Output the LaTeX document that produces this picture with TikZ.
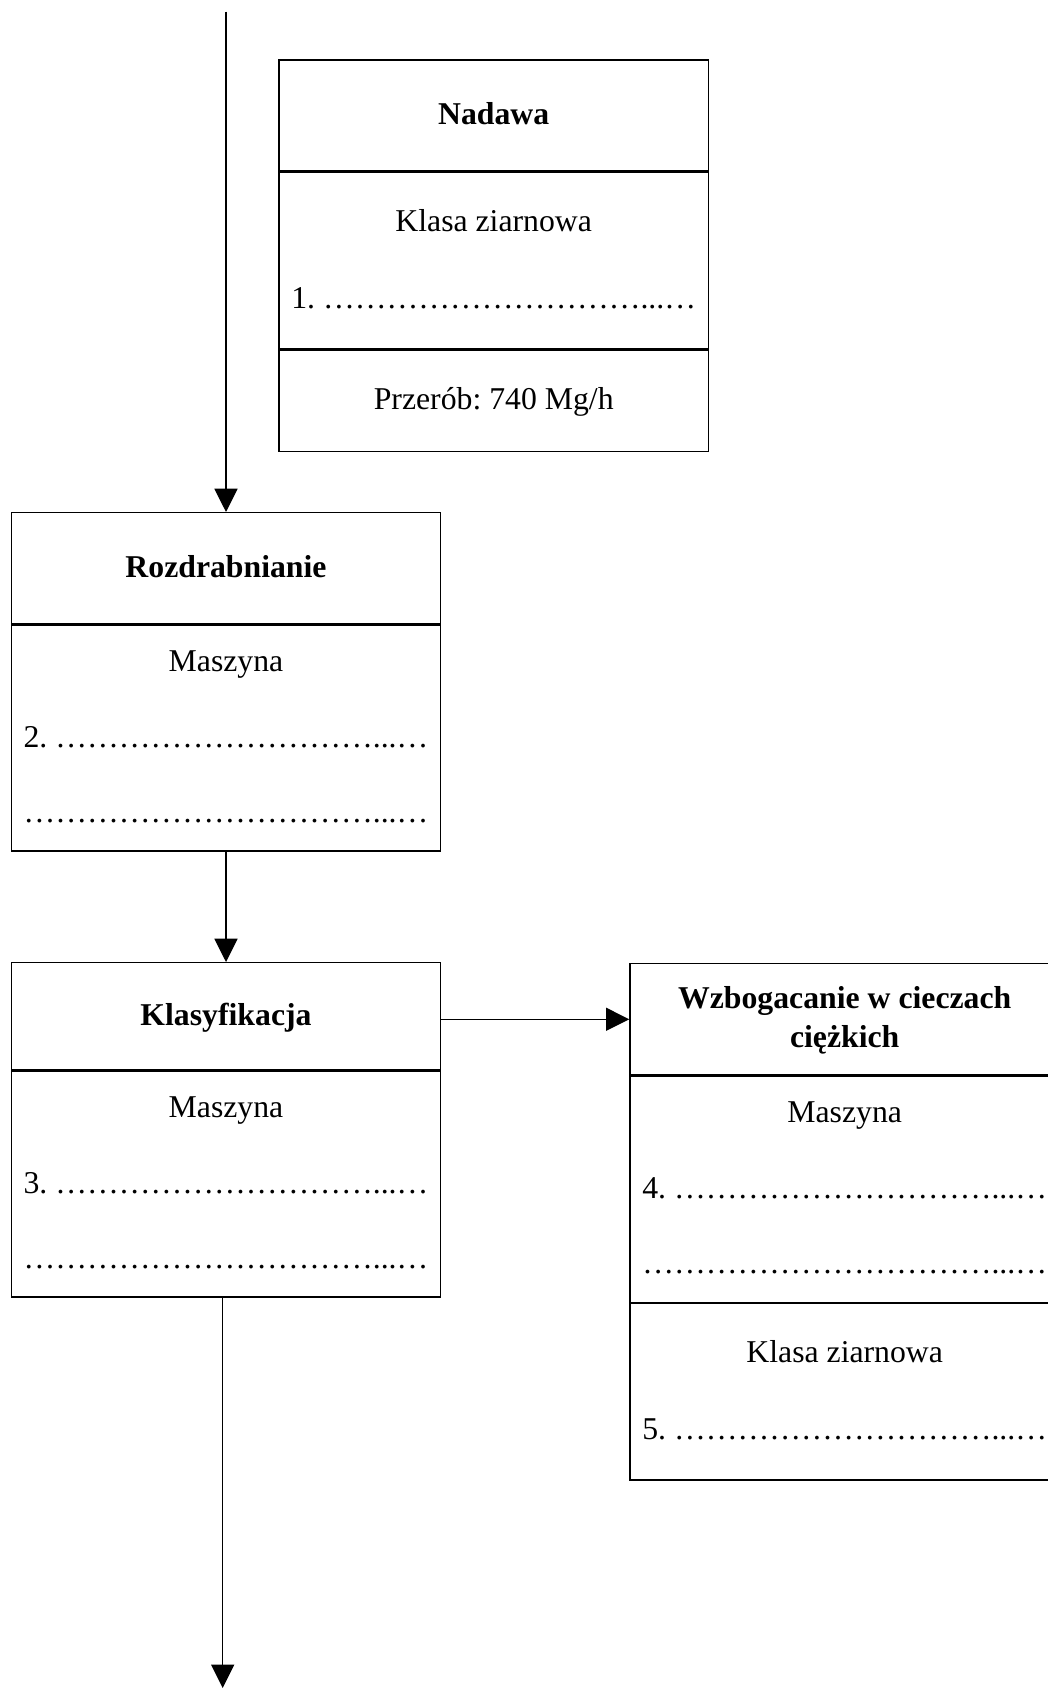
\documentclass[tikz,border=0pt]{standalone}
\usepackage{fontspec}
\setmainfont{Liberation Serif}
\usetikzlibrary{positioning,calc,arrows.meta}
\frenchspacing

\newcommand{\kropki}[1]{\foreach \k in {1,...,#1}{…}...…}

\tikzset{
  boxpart/.style={draw, line width=0.55pt, minimum width=162.3pt, inner sep=0pt,
    anchor=north, font=\fontsize{12pt}{14.8pt}\selectfont},
  boxhead/.style={boxpart, minimum height=42pt, text height=8.8pt, text depth=2pt,
    font=\fontsize{12pt}{14.8pt}\selectfont\bfseries},
  boxbig/.style={boxpart, minimum height=85.4pt},
  boxsmall/.style={boxpart, minimum height=66.6pt},
  boxfoot/.style={boxpart, minimum height=38.2pt, text height=8.8pt, text depth=2pt},
  entry/.style={anchor=base, inner sep=0pt, font=\fontsize{12pt}{14.8pt}\selectfont},
  flow/.style={line width=0.5pt, -{Triangle[length=8.8pt,width=8.7pt]}}
}

\begin{document}
\begin{tikzpicture}[x=0.378pt,y=-0.378pt]
  \useasboundingbox (0,0) rectangle (1048,1688);
  \clip (0,0) rectangle (1048,1688);

  \node[boxhead] (nadT) at (493.7,59.3) {Nadawa};
  \node[boxsmall, below=0pt of nadT] (nadB) {};
  \node[boxfoot, below=0pt of nadB] (nadF) {Przerób: 740 Mg/h};
  \node[entry] (nadK) at ($(nadB.north)+(0,60)$) {Klasa ziarnowa};
  \node[entry] (nad1) at ($(nadB.north)+(0,136.5)$) {1. \kropki{10}};

  \node[boxhead] (rozT) at (226,512) {Rozdrabnianie};
  \node[boxbig, below=0pt of rozT] (rozB) {};
  \node[entry] (rozM) at ($(rozB.north)+(0,47.4)$) {Maszyna};
  \node[entry] (roz2) at ($(rozB.north)+(0,122.7)$) {2. \kropki{10}};
  \node[entry] (rozD) at ($(rozB.north)+(0,198.4)$) {\kropki{11}};

  \node[boxhead, minimum height=40.4pt] (klasT) at (226,962) {Klasyfikacja};
  \node[boxbig, below=0pt of klasT] (klasB) {};
  \node[entry] (klasM) at ($(klasB.north)+(0,47.4)$) {Maszyna};
  \node[entry] (klas3) at ($(klasB.north)+(0,122.7)$) {3. \kropki{10}};
  \node[entry] (klasD) at ($(klasB.north)+(0,198.4)$) {\kropki{11}};

  \node[boxhead, align=center, text height=23.6pt] (wzbT) at (844.7,963)
    {Wzbogacanie w cieczach\\ciężkich};
  \node[boxbig, below=0pt of wzbT] (wzbB) {};
  \node[boxsmall, below=0pt of wzbB] (wzbK) {};
  \node[entry] (wzbM) at ($(wzbB.north)+(0,47.4)$) {Maszyna};
  \node[entry] (wzb4) at ($(wzbB.north)+(0,122.7)$) {4. \kropki{10}};
  \node[entry] (wzbD) at ($(wzbB.north)+(0,198.4)$) {\kropki{11}};
  \node[entry] (wzbKz) at ($(wzbK.north)+(0,60)$) {Klasa ziarnowa};
  \node[entry] (wzb5) at ($(wzbK.north)+(0,136.5)$) {5. \kropki{10}};

  \coordinate (feed) at (226,11.7);
  \coordinate (exit) at (222.7,1688);

  \draw[flow] (feed) -- (rozT.north);
  \draw[flow] (rozB.south) -- (klasT.north);
  \draw[flow] (klasT.east |- wzbT.west) -- (wzbT.west);
  \draw[flow] (klasB.south -| exit) -- (exit);
\end{tikzpicture}
\end{document}
